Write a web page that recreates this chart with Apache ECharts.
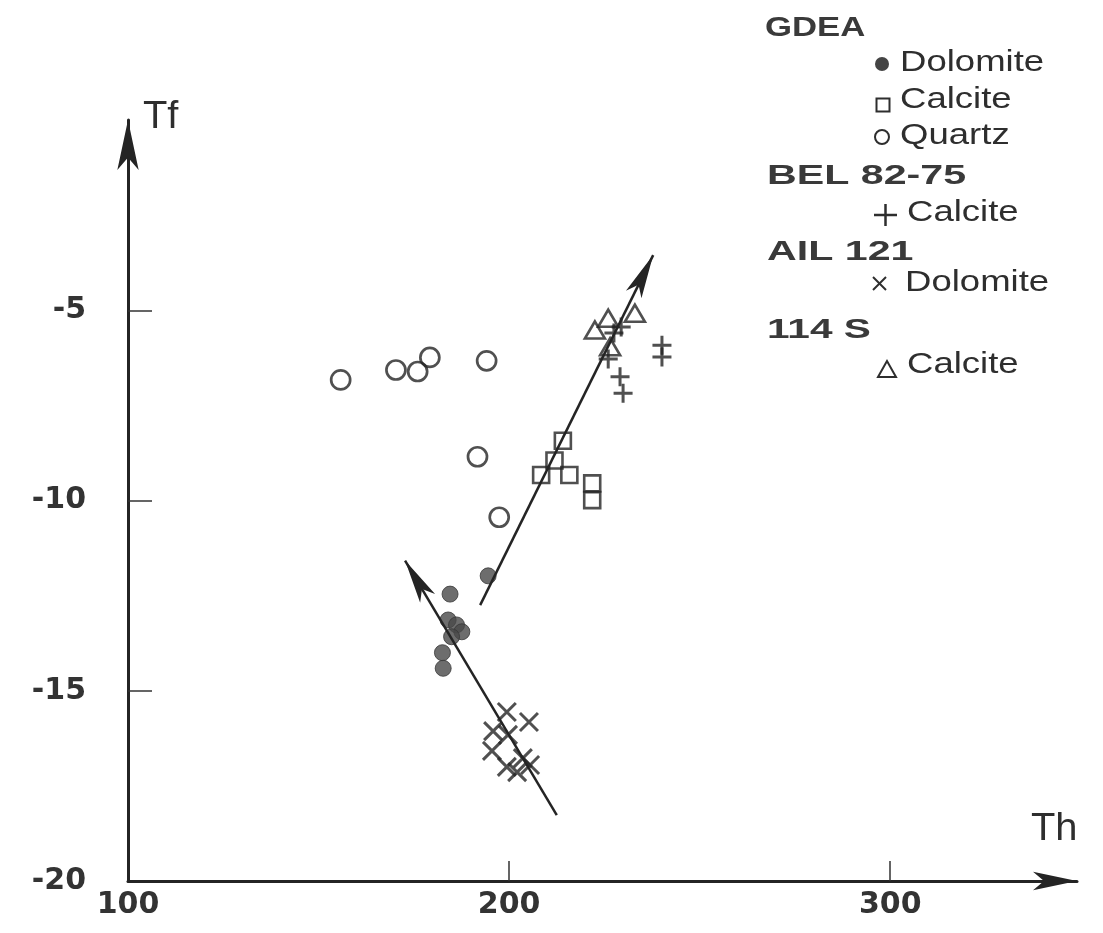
<!DOCTYPE html>
<html><head><meta charset="utf-8">
<script src="https://cdn.jsdelivr.net/npm/echarts@6/dist/echarts.min.js"></script>
<style>html,body{margin:0;padding:0;background:#fff}#c{width:1103px;height:933px}</style>
</head><body><div id="c"></div>
<script>
// ---- data (Th, Tf) ----
const xTicks = [100, 200, 300];
const yTicks = [-20, -15, -10, -5];
const gdeaDolomite = [[194.5,-11.98],[184.5,-12.46],[184.0,-13.14],[186.2,-13.27],[187.6,-13.45],[184.9,-13.58],[182.5,-14.0],[182.7,-14.41]];
const gdeaCalcite = [[214.1,-8.43],[211.9,-8.95],[208.4,-9.33],[215.8,-9.33],[221.8,-9.55],[221.8,-9.99]];
const gdeaQuartz = [[155.8,-6.83],[170.3,-6.57],[176.0,-6.61],[179.2,-6.24],[194.1,-6.33],[191.7,-8.85],[197.4,-10.44]];
const bel8275Calcite = [[227.5,-5.60],[229.4,-5.44],[226.0,-6.28],[229.1,-6.75],[229.9,-7.18],[240.1,-5.92],[240.1,-6.23]];
const ail121Dolomite = [[199.4,-15.56],[205.2,-15.82],[195.8,-16.06],[199.7,-16.16],[195.5,-16.58],[203.6,-16.77],[199.4,-17.0],[202.1,-17.14],[205.5,-16.95]];
const s114Calcite = [[222.5,-5.52],[226.0,-5.21],[233.0,-5.08],[226.5,-5.96]];
const trendArrows = [
  [[192.4,-12.75],[237.8,-3.55]],
  [[212.5,-18.27],[172.7,-11.58]]
];

const ink = '#242424';
const clear = 'rgba(0,0,0,0)';
const chart = echarts.init(document.getElementById('c'), null, {renderer:'canvas'});

function sc(name, data, symbol, size, filled, bw) {
  return {
    type:'scatter', name, data, symbol, symbolSize:size, silent:true,
    itemStyle: filled ? {color:'#484848', borderColor:'#383838', borderWidth:1}
                      : {color:clear, borderColor:ink, borderWidth:bw},
    z: 3
  };
}

const bodyFont = '29px "Liberation Sans"';
const headFont = 'bold 28px "Liberation Sans"';
function txt(text, x, y, font, sx, fill) {
  return {type:'text', x, y, scaleX:sx, silent:true,
    style:{text, font, fill: fill || '#2e2e2e', align:'left', verticalAlign:'middle'}};
}
const legendStroke = {fill:'none', stroke:'#2e2e2e', lineWidth:2};

const option = {
  backgroundColor:'#fff',
  animation:false,
  grid:{left:128, right:26, top:120, bottom:52, containLabel:false},
  xAxis:{
    type:'value', min:100, max:349, interval:100,
    axisLine:{show:true, onZero:false, symbol:['none','arrow'], symbolSize:[14,44],
      lineStyle:{color:ink, width:3}},
    axisTick:{show:true, inside:true, length:20, customValues:[200,300], lineStyle:{color:'#333', width:1.5}},
    axisLabel:{customValues:xTicks, margin:9, color:'#333', fontFamily:'DejaVu Sans', fontWeight:'bold', fontSize:30,
      formatter: v => xTicks.indexOf(v) >= 0 ? String(v) : ''},
    splitLine:{show:false}
  },
  yAxis:{
    type:'value', min:-20, max:0, interval:5,
    axisLine:{show:true, onZero:false, symbol:['none','arrow'], symbolSize:[16,50],
      lineStyle:{color:ink, width:3}},
    axisTick:{show:true, inside:true, length:24, customValues:[-15,-10,-5], lineStyle:{color:'#333', width:1.5}},
    axisLabel:{customValues:yTicks, margin:42, color:'#333', fontFamily:'DejaVu Sans', fontWeight:'bold', fontSize:30,
      formatter: v => yTicks.indexOf(v) >= 0 ? String(v) : ''},
    splitLine:{show:false}
  },
  series:[
    {type:'scatter', data:[], silent:true,
      markLine:{silent:true, symbol:['none','arrow'], label:{show:false},
        lineStyle:{color:ink, width:2.5, type:'solid'}, emphasis:{disabled:true},
        data: trendArrows.map(a => [
          {coord:a[0], symbol:'none', symbolSize:1},
          {coord:a[1], symbol:'arrow', symbolSize:[13,44]}
        ])}},
    sc('GDEA Dolomite', gdeaDolomite, 'circle', 16, true),
    sc('GDEA Calcite', gdeaCalcite, 'rect', 16, false, 2.6),
    sc('GDEA Quartz', gdeaQuartz, 'circle', 19, false, 2.7),
    sc('BEL 82-75 Calcite', bel8275Calcite, 'path://M5,0L5,10M0,5L10,5', 19, false, 3),
    sc('AIL 121 Dolomite', ail121Dolomite, 'path://M0,0L10,10M10,0L0,10', 18, false, 3),
    sc('114 S Calcite', s114Calcite, 'triangle', [20,17], false, 2.6)
  ],
  graphic:[
    txt('Tf', 143, 118, '38px "Liberation Sans"', 1.05),
    txt('Th', 1031, 830, '38px "Liberation Sans"', 1.05),
    txt('GDEA', 765, 28, headFont, 1.24, '#3a3a3a'),
    {type:'circle', silent:true, shape:{cx:882, cy:64, r:7}, style:{fill:'#444'}},
    txt('Dolomite', 900, 63, bodyFont, 1.26),
    {type:'rect', silent:true, shape:{x:876.5, y:98.5, width:13, height:13}, style:legendStroke},
    txt('Calcite', 900, 100, bodyFont, 1.26),
    {type:'circle', silent:true, shape:{cx:882, cy:137, r:7}, style:legendStroke},
    txt('Quartz', 900, 136, bodyFont, 1.26),
    txt('BEL 82-75', 767, 176, headFont, 1.47, '#3a3a3a'),
    {type:'line', silent:true, shape:{x1:874, y1:215, x2:897, y2:215}, style:{stroke:'#2e2e2e', lineWidth:2.5}},
    {type:'line', silent:true, shape:{x1:885.5, y1:204, x2:885.5, y2:226}, style:{stroke:'#2e2e2e', lineWidth:2.5}},
    txt('Calcite', 907, 213, bodyFont, 1.26),
    txt('AIL 121', 767, 252, headFont, 1.47, '#3a3a3a'),
    {type:'line', silent:true, shape:{x1:873, y1:277, x2:886, y2:290}, style:{stroke:'#2e2e2e', lineWidth:2}},
    {type:'line', silent:true, shape:{x1:886, y1:277, x2:873, y2:290}, style:{stroke:'#2e2e2e', lineWidth:2}},
    txt('Dolomite', 905, 283, bodyFont, 1.26),
    txt('114 S', 767, 330, headFont, 1.45, '#3a3a3a'),
    {type:'polygon', silent:true, shape:{points:[[887,361],[878,377],[896,377]]}, style:legendStroke},
    txt('Calcite', 907, 365, bodyFont, 1.26)
  ]
};
chart.setOption(option);
</script>
</body></html>
